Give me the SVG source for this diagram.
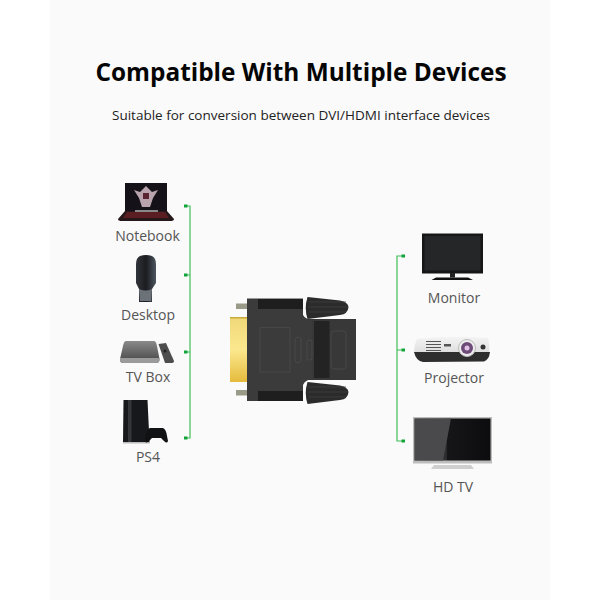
<svg xmlns="http://www.w3.org/2000/svg" width="600" height="600" viewBox="0 0 600 600">
<style>
.t{font-family:"Open Sans","Noto Sans","Liberation Sans",sans-serif}
.l{font-size:14px;fill:#555;text-anchor:middle}
.w{fill:none;stroke:#3fbe57;stroke-width:1.2}
.d{fill:#12a33a}
.o{fill:none;stroke:#4d4d4d;stroke-width:.7}
</style>
<defs>
<linearGradient id="box" x1="0" y1="0" x2="0" y2="1"><stop offset="0" stop-color="#8a8a8a"/><stop offset="1" stop-color="#444"/></linearGradient>
<linearGradient id="gold" x1="0" y1="0" x2="0" y2="1"><stop offset="0" stop-color="#f0d878"/><stop offset=".5" stop-color="#fbe88e"/><stop offset="1" stop-color="#e5bb3c"/></linearGradient>
<linearGradient id="tow" x1="0" y1="0" x2="1" y2="0"><stop offset="0" stop-color="#30343a"/><stop offset=".5" stop-color="#1b1c20"/><stop offset="1" stop-color="#4d5660"/></linearGradient>
<linearGradient id="proj" x1="0" y1="0" x2="0" y2="1"><stop offset="0" stop-color="#f4f4f4"/><stop offset="1" stop-color="#dcdcdc"/></linearGradient>
<linearGradient id="tv" x1="0" y1="0" x2="1" y2="0"><stop offset="0" stop-color="#555"/><stop offset=".42" stop-color="#2c2c2e"/><stop offset=".43" stop-color="#161618"/><stop offset="1" stop-color="#0c0c0e"/></linearGradient>
<g id="knob"><path d="M307.500 297L340 300.500Q348 302 348.500 307Q348 314 340 315L307.500 319Q304 308 307.500 297Z" fill="#2b2b2b"/><path d="M309 302H346M308 307H348M309 312H346" stroke="#3f3f3f" stroke-width=".8" fill="none"/></g>
</defs>
<rect width="600" height="600" fill="#fff"/>
<rect x="50" width="500" height="600" fill="#fafafa"/>
<text class="t" x="301" y="80.500" font-size="24.500" font-weight="700" fill="#050505" text-anchor="middle" textLength="411" lengthAdjust="spacingAndGlyphs">Compatible With Multiple Devices</text>
<text class="t" x="301" y="120" font-size="13.500" fill="#222" text-anchor="middle" textLength="378" lengthAdjust="spacingAndGlyphs">Suitable for conversion between DVI/HDMI interface devices</text>

<g id="connectors">
<path class="w" d="M187 206H190V438H187M187 275H190M187 352H190"/>
<path class="w" d="M402 256H397V441H402M397 350H402"/>
<rect class="d" x="184" y="204.500" width="3.500" height="3"/><rect class="d" x="184" y="273.500" width="3.500" height="3"/><rect class="d" x="184" y="350.500" width="3.500" height="3"/><rect class="d" x="184" y="436.500" width="3.500" height="3"/>
<rect class="d" x="401.500" y="254.500" width="3.500" height="3"/><rect class="d" x="401.500" y="348.500" width="3.500" height="3"/><rect class="d" x="401.500" y="439.500" width="3.500" height="3"/>
</g>

<g id="notebook">
<rect x="125" y="183" width="42" height="28" fill="#141218"/>
<path d="M146 186L152 192L158 190L153 198L150 207H142L139 198L134 190L140 192Z" fill="#b9a3ad"/>
<path d="M143 193h6v6h-6z" fill="#5a2530"/>
<path d="M125 211H167L174 219Q174 221 170 221H122Q118 221 118 219Z" fill="#26181a"/>
<path d="M127 212H165L169 218H123Z" fill="#5a1e22"/>
<rect x="135" y="210" width="23" height="2" fill="#888"/>
<text class="t l" x="147.500" y="240.500">Notebook</text>
</g>
<g id="desktop">
<path d="M140 256Q146 254 152 256Q156 258 156 264V283L152 289V302H139V289L136 283V264Q136 258 140 256Z" fill="url(#tow)"/>
<path d="M139 289Q146 292 152 289L151 301H140Z" fill="#6c7378"/>
<text class="t l" x="148" y="319.500">Desktop</text>
</g>
<g id="tv-box">
<path d="M126 341H154Q156 341 157 346L159.500 359Q159.500 363 156 363H123Q120 363 120 359L123 346Q124 341 126 341Z" fill="url(#box)"/>
<path d="M120 358H159.500V360Q159.500 363 156 363H123Q120 363 120 360Z" fill="#9b9b9b"/>
<path d="M158.500 344L166 343L174 361Q174 363 171 363H165Z" fill="#4d4d4d"/>
<circle cx="165" cy="351" r="1.500" fill="#222"/>
<text class="t l" x="148" y="381.500">TV Box</text>
</g>
<g id="ps4">
<path d="M123.500 400H147.500L149.500 442H123Z" fill="#17181b"/>
<path d="M128 400H131.500V442H128Z" fill="#34363a"/>
<path d="M123 442H150V443.500H123Z" fill="#bbb"/>
<path d="M150 428H163Q166 429 167 436L168 441Q167 444 164 441L161 438H152L149 441Q146 444 145 441L146 435Q147 429 150 428Z" fill="#111214"/>
<text class="t l" x="148" y="461.500">PS4</text>
</g>

<g id="adapter">
<path d="M236 303.500H247V309H236ZM236 390H247V395.500H236Z" fill="#9a9a88"/>
<rect x="230" y="317" width="17" height="65" fill="url(#gold)"/>
<rect x="230" y="317" width="17" height="1.500" fill="#c9a93a"/>
<path d="M303 319H356V380H303Z" fill="#383838"/>
<rect x="314" y="321" width="15.500" height="57" fill="#232323"/>
<path d="M247 298.500H303V315Q305 319 312 320V379Q305 380 303 385V401H247Z" fill="#3b3b3b"/>
<path d="M258 299H303V309H258ZM258 391H303V401H258Z" fill="#1e1e1e"/>
<path d="M260 327.500H290V372H260Z" class="o"/>
<rect x="295" y="337" width="6" height="26" rx="3" class="o"/>
<rect x="307" y="340" width="5" height="20" rx="2" class="o"/>
<rect x="331" y="331" width="15" height="38" rx="3" class="o"/>
<use href="#knob"/>
<use href="#knob" y="85"/>
</g>

<g id="monitor">
<rect x="422" y="233.500" width="61" height="40" fill="#161616"/>
<rect x="424.500" y="236" width="56" height="34.500" fill="#252628"/>
<path d="M450 273H455V277.500H450Z" fill="#222"/>
<path d="M436 277.500H468L473 280H431.500Z" fill="#111"/>
<text class="t l" x="454" y="302.500">Monitor</text>
</g>
<g id="projector">
<path d="M417 339Q452 335 488 338Q490 345 489 354L414 352Q414 345 417 339Z" fill="url(#proj)"/>
<path d="M414 352H490Q489 360 484 361.500L423 362Q416 361 414 352Z" fill="#2e2e2e"/>
<g fill="#555"><rect x="426" y="341" width="15" height="1"/><rect x="426" y="344" width="15" height="1"/><rect x="426" y="347" width="15" height="1"/><rect x="426" y="350" width="15" height="1"/><rect x="444" y="344" width="7" height="2.500"/></g>
<circle cx="467" cy="348" r="8.500" fill="#eee" stroke="#bbb"/>
<circle cx="467" cy="348" r="6" fill="#6d4b78"/>
<circle cx="467" cy="348" r="2.500" fill="#e3c2e8"/>
<circle cx="483" cy="347" r="2.500" fill="#333"/>
<text class="t l" x="454" y="382.500">Projector</text>
</g>
<g id="hd-tv">
<rect x="413" y="417" width="79" height="46.500" fill="#bdbdbd"/>
<rect x="414.500" y="418.500" width="76" height="42" fill="url(#tv)"/>
<path d="M451 418.500L443 460.500H414.500V418.500Z" fill="#4a4a4c"/>
<path d="M434 465H471L474 469H431Z" fill="#cfcfcf"/>
<text class="t l" x="453" y="491.500">HD TV</text>
</g>
</svg>
